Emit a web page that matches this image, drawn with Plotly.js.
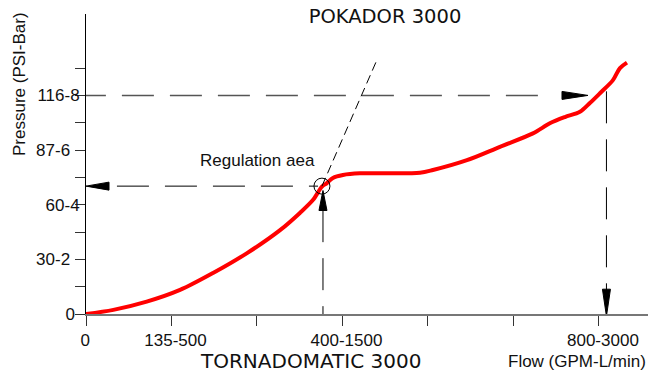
<!DOCTYPE html>
<html>
<head>
<meta charset="utf-8">
<script src="https://cdn.plot.ly/plotly-3.0.1.min.js"></script>
<style>html,body{margin:0;padding:0;background:#fff;}#chart{width:649px;height:376px;}</style>
</head>
<body>
<div id="chart"></div>
<script>
// Curve data: flow (L/min) vs pressure (bar)
const flowLmin = [0,160,355,550,743,942,1135,1251,1327,1380,1409,1444,1503,1602,1737,1953,2029,2228,2421,2614,2713,2801,2889,2947,3006,3082,3123,3164];
const pressureBar = [0,0.15,0.45,0.88,1.50,2.23,3.07,3.70,4.17,4.66,4.79,4.98,5.09,5.15,5.15,5.17,5.27,5.63,6.12,6.61,6.98,7.21,7.40,7.72,8.08,8.56,9.00,9.20];

// Axis ticks
const xTickVals = [0,500,1000,1500,2000,2500,3000];
const xTickText = ["0\u00a0\u00a0","135-500","","400-1500","","","800-3000"];
const yTickVals = [0,1,2,3,4,5,6,7,8,9];
const yTickText = ["0\u00a0","","30-2\u00a0\u00a0","","60-4","","87-6\u00a0\u00a0","","116-8",""];

// Guide lines (data units)
const refPressure = 8;          // 116-8 reference level
const refFlow = 3044;           // flow at reference
const refHorizX = [2643, 0];    // dashed segment (drawn right -> left)
const refArrowTipX = 2936;
const refVertY = [8.15, 0];
const refArrowDownTipY = -0.08;
const regFlow = 1380;           // regulation point
const regPressure = 4.68;
const regHorizX = [181, 1357];
const regArrowLeftTipX = 0;
const regVertX = 1386;
const regVertY = [3.8, 0];
const regArrowUpTipY = 4.52;
const slopeEnd = [1696, 9.22];

const dashLong = "32px,16px";
const black = "#000";

function tri(xa, ya, path){
  return {type:"path", xref:"x", yref:"y", xsizemode:"pixel", ysizemode:"pixel",
    xanchor: xa, yanchor: ya, path: path, fillcolor: black, line:{color:black, width:1}};
}

const shapes = [
  {type:"line", xref:"x", yref:"y", x0:refHorizX[0], x1:refHorizX[1], y0:refPressure, y1:refPressure,
   line:{color:"#555", width:1.5, dash:dashLong}},
  tri(refArrowTipX, refPressure, "M0,0 L-26,4 L-26,-4 Z"),
  {type:"line", xref:"x", yref:"y", x0:refFlow, x1:refFlow, y0:refVertY[0], y1:refVertY[1],
   line:{color:black, width:1, dash:dashLong}},
  tri(refFlow, refArrowDownTipY, "M0,0 L-4,27 L4,27 Z"),
  {type:"line", xref:"x", yref:"y", x0:regHorizX[0], x1:regHorizX[1], y0:regPressure, y1:regPressure,
   line:{color:black, width:1, dash:dashLong}},
  tri(regArrowLeftTipX, regPressure, "M0,0 L23,4 L23,-4 Z"),
  {type:"line", xref:"x", yref:"y", x0:regVertX, x1:regVertX, y0:regVertY[0], y1:regVertY[1],
   line:{color:black, width:1, dash:dashLong}},
  tri(regVertX, regArrowUpTipY, "M0,0 L-4,-20 L4,-20 Z"),
  {type:"line", xref:"x", yref:"y", x0:regFlow, x1:slopeEnd[0], y0:regPressure, y1:slopeEnd[1],
   line:{color:black, width:1, dash:"9px,5px"}},
  {type:"circle", xref:"x", yref:"y", xsizemode:"pixel", ysizemode:"pixel",
   xanchor:regFlow, yanchor:regPressure, x0:-8, x1:8, y0:-8, y1:8,
   line:{color:black, width:1}}
];

const trace = {
  x: flowLmin, y: pressureBar, type:"scatter", mode:"lines",
  line:{color:"#ff0000", width:4, shape:"spline", smoothing:0.9},
  hoverinfo:"skip", showlegend:false
};

const labelFont = {family:"Liberation Sans, Arial, sans-serif", size:17, color:"#111"};

const layout = {
  width:649, height:376,
  margin:{l:86, r:1, t:14, b:62, pad:0},
  paper_bgcolor:"#fff", plot_bgcolor:"#fff",
  showlegend:false,
  title:{text:"POKADOR 3000", font:{family:"DejaVu Sans, sans-serif", size:19.5, color:"#111"},
         x:385/649, xanchor:"center", y:1-16/376, yanchor:"middle", xref:"container", yref:"container"},
  xaxis:{range:[0,3287], tickmode:"array", tickvals:xTickVals, ticktext:xTickText,
         ticks:"outside", ticklen:10, tickwidth:1, tickcolor:"#333",
         showline:true, linecolor:"#777", linewidth:2, showgrid:false, zeroline:false,
         tickfont:labelFont, ticklabelshift:4, fixedrange:true},
  yaxis:{range:[0,10.98], tickmode:"array", tickvals:yTickVals, ticktext:yTickText,
         ticks:"outside", ticklen:10, tickwidth:1, tickcolor:"#333",
         showline:true, linecolor:"#000", linewidth:1, showgrid:false, zeroline:false,
         tickfont:labelFont, ticklabelstandoff:-8, fixedrange:true},
  shapes: shapes,
  annotations:[
    {text:"Regulation aea", xref:"paper", yref:"paper", x:(257-86)/562, y:(314-160.8)/300,
     xanchor:"center", yanchor:"middle", showarrow:false, font:labelFont},
    {text:"TORNADOMATIC 3000", xref:"paper", yref:"paper", x:(310-86)/562, y:(314-360.5)/300,
     xanchor:"center", yanchor:"middle", showarrow:false,
     font:{family:"DejaVu Sans, sans-serif", size:20, color:"#111"}},
    {text:"Flow (GPM-L/min)", xref:"paper", yref:"paper", x:(576.5-86)/562, y:(314-361.5)/300,
     xanchor:"center", yanchor:"middle", showarrow:false, font:labelFont},
    {text:"Pressure (PSI-Bar)", xref:"paper", yref:"paper", x:(20-86)/562, y:(314-84)/300,
     xanchor:"center", yanchor:"middle", showarrow:false, textangle:-90, font:labelFont}
  ]
};

Plotly.newPlot("chart", [trace], layout, {displayModeBar:false, staticPlot:true});
</script>
</body>
</html>
